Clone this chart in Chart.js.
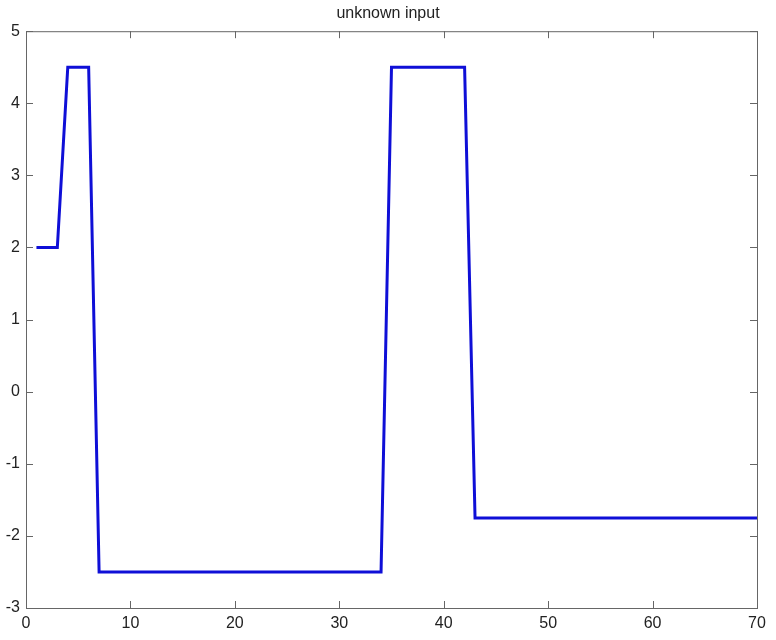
<!DOCTYPE html>
<html>
<head>
<meta charset="utf-8">
<script src="https://cdn.jsdelivr.net/npm/chart.js@4/dist/chart.umd.min.js"></script>
<style>
  body { margin: 0; background: #fff; }
</style>
</head>
<body>
<canvas id="chart" width="776" height="640"></canvas>
<script>
const xValues = [1, 3, 4, 6, 7, 34, 35, 42, 43, 70];
const yValues = [2, 2, 4.5, 4.5, -2.5, -2.5, 4.5, 4.5, -1.75, -1.75];
const xTicks = [0, 10, 20, 30, 40, 50, 60, 70];
const yTicks = [-3, -2, -1, 0, 1, 2, 3, 4, 5];

const points = xValues.map((x, i) => ({ x: x, y: yValues[i] }));

// box round the plot plus inward ticks on every side, matlab style
const boxPlugin = {
    id: 'box',
    afterDraw(chart) {
        const ctx = chart.ctx;
        const a = chart.chartArea;
        const xs = chart.scales.x;
        const ys = chart.scales.y;
        const len = 7;
        ctx.save();
        ctx.strokeStyle = '#666';
        ctx.lineWidth = 1;
        ctx.strokeRect(a.left + 0.5, a.top + 0.5, a.right - a.left, a.bottom - a.top);
        ctx.beginPath();
        xTicks.forEach(v => {
            const px = Math.round(xs.getPixelForValue(v)) + 0.5;
            ctx.moveTo(px, a.bottom);
            ctx.lineTo(px, a.bottom - len);
            ctx.moveTo(px, a.top);
            ctx.lineTo(px, a.top + len);
        });
        yTicks.forEach(v => {
            const py = Math.round(ys.getPixelForValue(v)) + 0.5;
            ctx.moveTo(a.left, py);
            ctx.lineTo(a.left + len, py);
            ctx.moveTo(a.right, py);
            ctx.lineTo(a.right - len, py);
        });
        ctx.stroke();
        ctx.restore();
    }
};

new Chart(document.getElementById('chart').getContext('2d'), {
    type: 'scatter',
    data: {
        datasets: [{
            data: points,
            showLine: true,
            borderColor: 'rgb(15, 15, 215)',
            borderWidth: 3,
            pointRadius: 0,
            tension: 0
        }]
    },
    options: {
        responsive: false,
        animation: false,
        layout: { padding: 0 },
        plugins: {
            legend: { display: false },
            tooltip: { enabled: false },
            title: {
                display: true,
                text: 'unknown input',
                color: '#222',
                font: { family: 'Liberation Sans', size: 16, weight: 'normal', lineHeight: 1.2 },
                padding: { top: 4, bottom: 8 }
            }
        },
        scales: {
            x: {
                type: 'linear',
                min: 0,
                max: 70,
                afterBuildTicks: s => { s.ticks = xTicks.map(v => ({ value: v })); },
                afterFit: s => { s.height = 32; },
                grid: { display: false, drawTicks: false, tickLength: 0 },
                border: { display: false },
                ticks: {
                    color: '#222',
                    padding: 6,
                    maxRotation: 0,
                    font: { family: 'Liberation Sans', size: 16 }
                }
            },
            y: {
                type: 'linear',
                min: -3,
                max: 5,
                afterBuildTicks: s => { s.ticks = yTicks.map(v => ({ value: v })); },
                afterFit: s => { s.width = 26; },
                grid: { display: false, drawTicks: false, tickLength: 0 },
                border: { display: false },
                ticks: {
                    color: '#222',
                    padding: 6,
                    font: { family: 'Liberation Sans', size: 16 }
                }
            },
            // empty right axis, only to keep the right margin so the title stays centred on the page
            yRight: {
                type: 'linear',
                position: 'right',
                min: -3,
                max: 5,
                afterFit: s => { s.width = 19; },
                grid: { display: false, drawTicks: false },
                border: { display: false },
                ticks: { display: false }
            }
        }
    },
    plugins: [boxPlugin]
});
</script>
</body>
</html>
